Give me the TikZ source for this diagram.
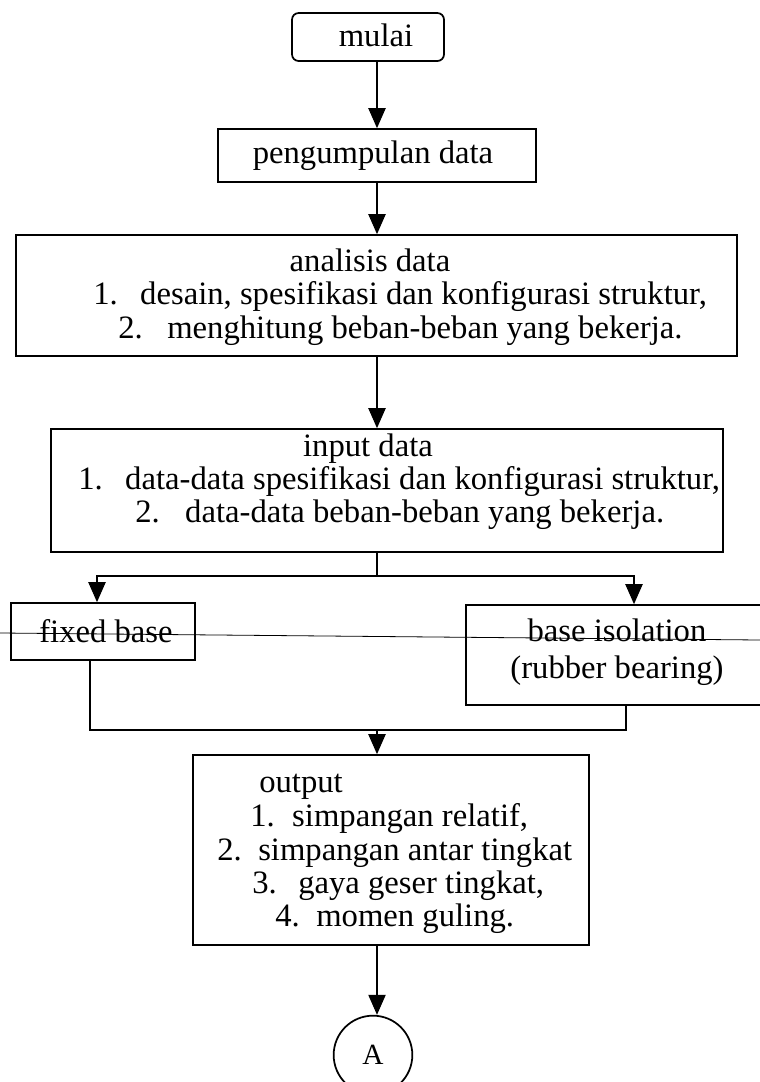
\documentclass[tikz,border=0pt]{standalone}
\usepackage{fontspec}
\setmainfont{Liberation Serif}
\usetikzlibrary{arrows.meta}
\begin{document}
\begin{tikzpicture}[x=0.75pt,y=-0.75pt,
  box/.style={draw, line width=1.3pt, inner sep=0pt},
  conn/.style={line width=0.8pt},
  arr/.style={conn, -{Triangle[length=15pt,width=13pt]}},
  txt/.style={font=\fontsize{24.5}{26}\selectfont, inner sep=0pt, anchor=base},
  txtw/.style={txt, anchor=base west}]
\useasboundingbox (0,0) rectangle (760,1082);

% main axis and routing points
\coordinate (axis) at (377,0);
\coordinate (splitL) at (97,576);
\coordinate (splitR) at (634,576);
\coordinate (mergeL) at (90,730);
\coordinate (mergeR) at (626,730);
\coordinate (scanL) at (0,633);
\coordinate (scanR) at (760,640);

% boxes
\node[box, rounded corners=5pt, minimum width=114pt, minimum height=36pt] (mulai) at (368,37) {};
\node[box, minimum width=238.5pt, minimum height=39.75pt] (peng) at (377,155.5) {};
\node[box, minimum width=540.75pt, minimum height=90.75pt] (ana) at (376.5,295.5) {};
\node[box, minimum width=504pt, minimum height=92.25pt] (inp) at (387,490.5) {};
\node[box, minimum width=138pt, minimum height=42.75pt] (fixed) at (103,631.5) {};
\node[box, minimum width=228pt, minimum height=75pt] (iso) at (618,655) {};
\node[box, minimum width=297pt, minimum height=142.5pt] (out) at (391,850) {};
\node[draw, line width=1.3pt, circle, minimum size=59pt, inner sep=0pt] (A) at (373,1055) {};

% texts
\node[txt] (tmulai) at (376,46) {mulai};
\node[txt] (tpeng) at (373,163) {pengumpulan data};

\node[txt] (tana) at (370,271) {analisis data};
\node[txtw] (tana1) at (93,304) {\makebox[35.25pt][l]{1.}desain, spesifikasi dan konfigurasi struktur,};
\node[txtw] (tana2) at (118,338) {\makebox[36.75pt][l]{2.}menghitung beban-beban yang bekerja.};

\node[txt] (tinp) at (368,456) {input data};
\node[txtw] (tinp1) at (78,489) {\makebox[35.25pt][l]{1.}data-data spesifikasi dan konfigurasi struktur,};
\node[txtw] (tinp2) at (135,522) {\makebox[37.5pt][l]{2.}data-data beban-beban yang bekerja.};

\node[txt] (tfixed) at (106,642) {fixed base};
\node[txt] (tiso1) at (617,641) {base isolation};
\node[txt] (tiso2) at (617,678) {(rubber bearing)};

\node[txtw] (tout) at (259,792) {output};
\node[txtw] (tout1) at (250,826) {\makebox[31.5pt][l]{1.}simpangan relatif,};
\node[txtw] (tout2) at (217,860) {\makebox[30.75pt][l]{2.}simpangan antar tingkat};
\node[txtw] (tout3) at (252,893) {\makebox[34.5pt][l]{3.}gaya geser tingkat,};
\node[txtw] (tout4) at (275,926) {\makebox[30.75pt][l]{4.}momen guling.};

\node[font=\fontsize{22}{24}\selectfont, inner sep=0pt] (tA) at (A.center) {A};

% connectors
\draw[arr] (mulai.south -| axis) -- (peng.north -| axis);
\draw[arr] (peng.south -| axis) -- (ana.north -| axis);
\draw[arr] (ana.south -| axis) -- (inp.north -| axis);
\draw[conn] (inp.south -| axis) -- (splitL -| axis);
\draw[arr] (splitL -| axis) -- (splitL) -- (splitL |- fixed.north);
\draw[arr] (splitR -| axis) -- (splitR) -- (splitR |- iso.north);
\draw[conn] (fixed.south -| mergeL) -- (mergeL) -- (mergeR) -- (iso.south -| mergeR);
\draw[arr] (mergeL -| axis) -- (out.north -| axis);
\draw[arr] (out.south -| axis) -- (A.north -| axis);

% thin stray rule across the two base boxes
\draw[line width=0.6pt] (scanL) -- (scanR);
\end{tikzpicture}
\end{document}
